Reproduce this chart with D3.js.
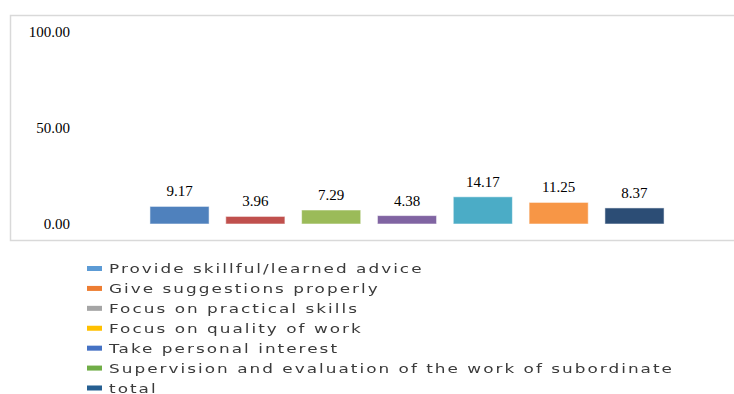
<!DOCTYPE html>
<html>
<head>
<meta charset="utf-8">
<script src="https://cdn.jsdelivr.net/npm/d3@7"></script>
<style>
  html, body { margin: 0; padding: 0; background: #fff; }
  svg { display: block; }
</style>
</head>
<body>
<svg id="chart" width="734" height="394"></svg>
<script>
// Supervisory behaviour scores (%)
const categories = [
  "Provide skillful/learned advice",
  "Give suggestions properly",
  "Focus on practical skills",
  "Focus on quality of work",
  "Take personal interest",
  "Supervision and evaluation of the work of subordinate",
  "total"
];
const values = [9.17, 3.96, 7.29, 4.38, 14.17, 11.25, 8.37];
const valueLabels = ["9.17", "3.96", "7.29", "4.38", "14.17", "11.25", "8.37"];
const yTicks = [0, 50, 100];
const yTickLabels = ["0.00", "50.00", "100.00"];

const barColors = ["#4F81BD", "#C0504D", "#9BBB59", "#8064A2", "#4BACC6", "#F79646", "#2C4D75"];
const legendColors = ["#5B9BD5", "#ED7D31", "#A5A5A5", "#FFC000", "#4472C4", "#70AD47", "#255E91"];

const svg = d3.select("#chart");

// plot frame (open on the right side)
svg.append("path")
  .attr("d", "M 740 15.5 H 10.5 V 240.5 H 740")
  .attr("fill", "none")
  .attr("stroke", "#d9d9d9")
  .attr("stroke-width", 1.5);

const y = d3.scaleLinear().domain([0, 100]).range([224, 32]);
const x = d3.scaleBand().domain(categories).range([141.6, 672.4])
  .paddingInner(0.22).paddingOuter(0.11);

// y axis labels (no axis line, no ticks)
const yAxis = d3.axisLeft(y)
  .tickValues(yTicks)
  .tickFormat((d, i) => yTickLabels[i])
  .tickSize(0)
  .tickPadding(0);
const gy = svg.append("g").attr("transform", "translate(70,0)").call(yAxis);
gy.select(".domain").remove();
gy.selectAll("text")
  .attr("font-family", "'Liberation Serif', 'Times New Roman', serif")
  .attr("font-size", 15)
  .attr("fill", "#000")
  .attr("dy", "0.32em");

// bars
svg.append("g").selectAll("rect")
  .data(values)
  .join("rect")
  .attr("x", (d, i) => x(categories[i]))
  .attr("y", d => y(d))
  .attr("width", x.bandwidth())
  .attr("height", d => y(0) - y(d))
  .attr("fill", (d, i) => barColors[i])
  .attr("stroke", "rgba(255,255,255,0.55)")
  .attr("stroke-width", 1);

// value labels
svg.append("g").selectAll("text")
  .data(values)
  .join("text")
  .attr("x", (d, i) => x(categories[i]) + x.bandwidth() / 2)
  .attr("y", d => y(d) - 10)
  .attr("text-anchor", "middle")
  .attr("font-family", "'Liberation Serif', 'Times New Roman', serif")
  .attr("font-size", 15)
  .attr("fill", "#000")
  .text((d, i) => valueLabels[i]);

// legend (wide, slightly softened text)
const defs = svg.append("defs");
defs.append("filter").attr("id", "soft")
  .append("feGaussianBlur").attr("stdDeviation", 0.5);

const legend = svg.append("g").attr("filter", "url(#soft)");
const rowY = d3.scalePoint().domain(categories).range([268.5, 388]);
const items = legend.selectAll("g")
  .data(categories)
  .join("g")
  .attr("transform", d => `translate(0,${rowY(d)})`);
items.append("rect")
  .attr("x", 87)
  .attr("y", -2.5)
  .attr("width", 15)
  .attr("height", 5)
  .attr("fill", (d, i) => legendColors[i]);
items.append("text")
  .attr("transform", "translate(109,0) scale(1.35,1)")
  .attr("dy", "0.36em")
  .attr("font-family", "'DejaVu Sans', Verdana, sans-serif")
  .attr("font-size", 12.5)
  .attr("letter-spacing", 1.5)
  .attr("fill", "#3a3a3a")
  .text(d => d);
</script>
</body>
</html>
